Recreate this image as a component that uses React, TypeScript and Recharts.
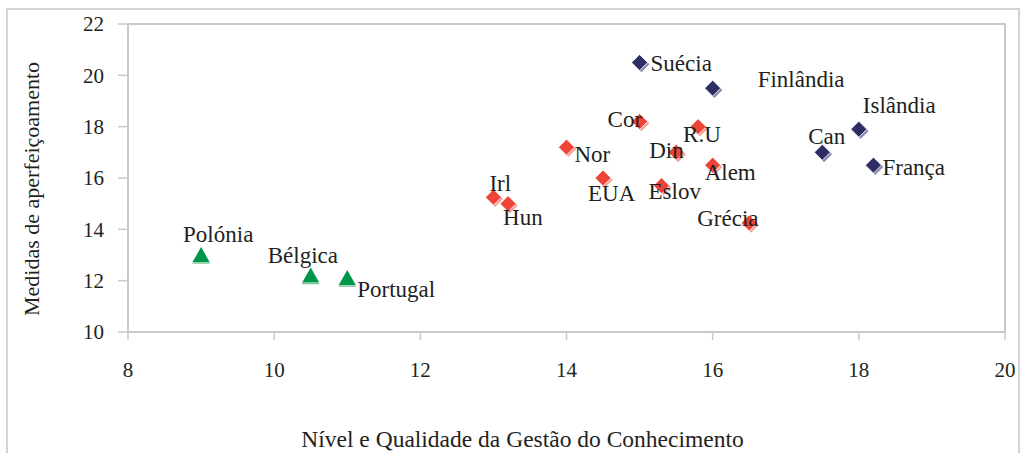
import React from 'react';
import { ScatterChart, Scatter, XAxis, YAxis, ReferenceArea } from 'recharts';

// eixos
const xTicks = [8, 10, 12, 14, 16, 18, 20];
const yTicks = [10, 12, 14, 16, 18, 20, 22];

// grupo azul (líderes)
const lideres = [
  { name: 'Suécia', x: 15, y: 20.5 },
  { name: 'Finlândia', x: 16, y: 19.5 },
  { name: 'Islândia', x: 18, y: 17.9 },
  { name: 'Can', x: 17.5, y: 17 },
  { name: 'França', x: 18.2, y: 16.5 },
];

// grupo vermelho (intermédios)
const intermedios = [
  { name: 'Cor', x: 15, y: 18.2 },
  { name: 'R.U', x: 15.8, y: 18 },
  { name: 'Nor', x: 14, y: 17.2 },
  { name: 'Din', x: 15.5, y: 17 },
  { name: 'Alem', x: 16, y: 16.5 },
  { name: 'EUA', x: 14.5, y: 16 },
  { name: 'Eslov', x: 15.3, y: 15.7 },
  { name: 'Irl', x: 13, y: 15.25 },
  { name: 'Hun', x: 13.2, y: 15 },
  { name: 'Grécia', x: 16.5, y: 14.25 },
];

// grupo verde (atrasados)
const atrasados = [
  { name: 'Polónia', x: 9, y: 13 },
  { name: 'Bélgica', x: 10.5, y: 12.2 },
  { name: 'Portugal', x: 11, y: 12.1 },
];

// deslocamento do rótulo em relação ao ponto: [dx até início do texto, dy até à linha de base]
const labelOffset: Record<string, [number, number]> = {
  'Suécia': [11, 8],
  'Finlândia': [45, -1],
  'Islândia': [4, -16],
  'Can': [-14, -8],
  'França': [9, 10],
  'Cor': [-32, 5],
  'R.U': [-15, 15],
  'Nor': [8, 15],
  'Din': [-27, 6],
  'Alem': [-8, 15],
  'EUA': [-15, 23],
  'Eslov': [-13, 13],
  'Irl': [-4, -6],
  'Hun': [-5, 21],
  'Grécia': [-52, 3],
  'Polónia': [-18, -13],
  'Bélgica': [-43, -13],
  'Portugal': [10, 19],
};

const FONT = "'Liberation Serif', 'DejaVu Serif', 'Times New Roman', Times, serif";
const TEXT = '#231f20';
const AXIS = '#c9c9c9';

const PointLabel = ({ cx, cy, name }: any) => {
  const off = labelOffset[name] || [8, 6];
  return (
    <text x={cx + off[0]} y={cy + off[1]} style={{ fontFamily: FONT, fontSize: 23, fill: TEXT }}>
      {name}
    </text>
  );
};

const diamond = (color: string, edge: string) => (props: any) => {
  const { cx, cy, payload } = props;
  const r = 8;
  const pts = (o: number) =>
    `${cx + o},${cy - r + o} ${cx + r + o},${cy + o} ${cx + o},${cy + r + o} ${cx - r + o},${cy + o}`;
  return (
    <g>
      <polygon points={pts(1.8)} fill={edge} />
      <polygon points={pts(0)} fill={color} stroke="#fff" strokeWidth={0.8} />
      <PointLabel cx={cx} cy={cy} name={payload.name} />
    </g>
  );
};

const triangle = (color: string, edge: string) => (props: any) => {
  const { cx, cy, payload } = props;
  return (
    <g>
      <polygon points={`${cx},${cy - 8} ${cx + 8.5},${cy + 7} ${cx - 8.5},${cy + 7}`} fill={color} />
      <line x1={cx - 8.5} y1={cy + 8} x2={cx + 8.5} y2={cy + 8} stroke={edge} strokeWidth={1.5} />
      <PointLabel cx={cx} cy={cy} name={payload.name} />
    </g>
  );
};

const tickStyle = { fontFamily: FONT, fontSize: 21, fill: TEXT };

export default function App() {
  return (
    <div
      style={{
        position: 'absolute',
        left: 0,
        top: 0,
        width: 1023,
        height: 453,
        background: '#fff',
        overflow: 'hidden',
        fontFamily: FONT,
      }}
    >
      <div
        style={{
          position: 'absolute',
          left: 6,
          top: 8,
          width: 1014,
          height: 470,
          border: '2px solid #d3d3d3',
          boxSizing: 'border-box',
        }}
      />
      <div style={{ position: 'absolute', left: 0, top: 0 }}>
        <ScatterChart
          width={1023}
          height={453}
          margin={{ top: 24, right: 18, left: 0, bottom: 0 }}
          style={{ fontFamily: FONT }}
        >
          <ReferenceArea x1={8} x2={20} y1={10} y2={22} fill="none" stroke={AXIS} strokeWidth={2} ifOverflow="visible" />
          <XAxis
            type="number"
            dataKey="x"
            domain={[8, 20]}
            ticks={xTicks}
            interval={0}
            height={121}
            tick={tickStyle}
            tickSize={8}
            tickMargin={22}
            axisLine={{ stroke: AXIS, strokeWidth: 2 }}
            tickLine={{ stroke: AXIS, strokeWidth: 1.5 }}
            allowDataOverflow
            label={{
              value: 'Nível e Qualidade da Gestão do Conhecimento',
              position: 'insideBottom',
              offset: 6,
              dx: -44,
              style: { fontFamily: FONT, fontSize: 23.5, fill: TEXT },
            }}
          />
          <YAxis
            type="number"
            dataKey="y"
            domain={[10, 22]}
            ticks={yTicks}
            interval={0}
            width={128}
            tick={tickStyle}
            tickSize={10}
            tickMargin={14}
            axisLine={{ stroke: AXIS, strokeWidth: 2 }}
            tickLine={{ stroke: AXIS, strokeWidth: 1.5 }}
            allowDataOverflow
            label={{
              content: (p: any) => {
                const vb = p.viewBox;
                const x = vb.x + 31;
                const y = vb.y + vb.height / 2 + 11;
                return (
                  <text
                    x={x}
                    y={y}
                    transform={`rotate(-90, ${x}, ${y})`}
                    textAnchor="middle"
                    dominantBaseline="central"
                    style={{ fontFamily: FONT, fontSize: 22, fill: TEXT }}
                  >
                    Medidas de aperfeiçoamento
                  </text>
                );
              },
            }}
          />
          <Scatter data={atrasados} shape={triangle('#00964a', '#7cc596')} isAnimationActive={false} />
          <Scatter data={intermedios} shape={diamond('#ee4437', '#f6a39c')} isAnimationActive={false} />
          <Scatter data={lideres} shape={diamond('#2c2e64', '#8a8cb4')} isAnimationActive={false} />
        </ScatterChart>
      </div>
    </div>
  );
}
